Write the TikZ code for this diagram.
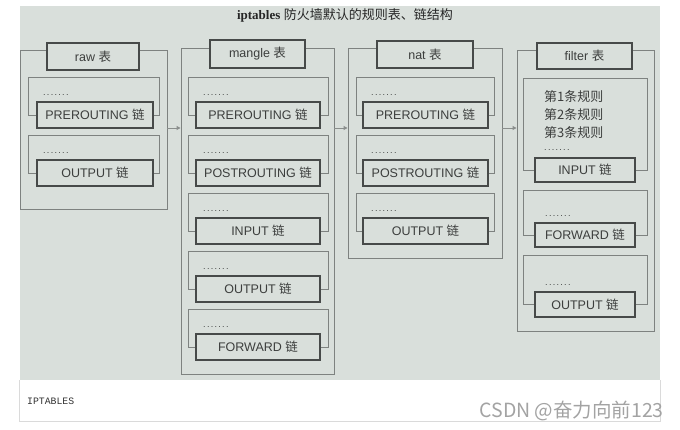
\documentclass[tikz,border=0pt]{standalone}
\usepackage{fontspec}
\setmainfont{Liberation Sans}
\newfontfamily\cjk{Noto Sans CJK SC}
\newfontfamily\serifb{Liberation Serif}
\newfontfamily\monof{Liberation Mono}
\usetikzlibrary{arrows.meta}
\definecolor{photobg}{HTML}{D9DFDB}
\definecolor{framecol}{HTML}{7E8280}
\definecolor{boxcol}{HTML}{474A49}
\definecolor{txtcol}{HTML}{3C3E3D}
\definecolor{arrcol}{HTML}{8A8E8C}
\definecolor{capline}{HTML}{DADADA}
\definecolor{wmcol}{HTML}{A3A3A3}
\newcommand\lbl{\fontsize{12.5}{14}\selectfont}
\newcommand\dotrow{.\kern1.3pt.\kern1.3pt.\kern1.3pt.\kern1.3pt.\kern1.3pt.\kern1.3pt.}
\newcommand\bx[7]{%
  \pgfmathsetmacro\bxcx{(#3+#5)/2}\pgfmathsetmacro\bxcy{(#4+#6)/2}%
  \pgfmathsetmacro\bxw{#5-#3}\pgfmathsetmacro\bxh{#6-#4}%
  \node[#2,minimum width=\bxw pt,minimum height=\bxh pt] (#1) at (\bxcx,\bxcy) {#7};}
\newcommand\grpbox[7]{%
  \pgfmathsetmacro\grT{77+58*(#2-1)}%
  \pgfmathsetmacro\grC{\grT+25}%
  \pgfmathsetmacro\grM{\grC+13}%
  \pgfmathsetmacro\grB{\grC+26}%
  \bx{#1f}{grp}{#3}{\grT}{#4}{\grM}{}%
  \bx{#1}{chainbox}{#5}{\grC}{#6}{\grB}{#7}%
  \node[dotsn] (#1d) at (#3+15,\grC-7) {\dotrow};}
\begin{document}
\begin{tikzpicture}[x=1pt,y=-1pt,
  outer/.style={draw=framecol,line width=0.9pt,inner sep=0pt},
  grp/.style={draw=framecol,line width=0.9pt,inner sep=0pt},
  hdr/.style={draw=boxcol,line width=1.4pt,fill=photobg,font=\lbl,text=txtcol,inner sep=0pt},
  chainbox/.style={draw=boxcol,line width=1.2pt,fill=photobg,font=\lbl,text=txtcol,inner sep=0pt},
  dotsn/.style={font=\fontsize{9}{9}\selectfont,text=txtcol,anchor=west,inner sep=0pt},
  rule/.style={font=\cjk\fontsize{13}{13}\selectfont,text=txtcol,anchor=west,inner sep=0pt},
  arr/.style={draw=arrcol,line width=0.9pt,-{Triangle[length=4pt,width=4pt]}}
]
\useasboundingbox (0,0) rectangle (680,430);
\fill[white] (0,0) rectangle (680,430);
% photo and caption box
\fill[photobg] (20,6) rectangle (660,380);
\draw[capline,line width=0.8pt] (19.5,380) -- (19.5,421.5) -- (660.5,421.5) -- (660.5,380);
\node[font=\fontsize{13}{15}\selectfont,text=black!85,inner sep=0pt] (title) at (345,15)
  {{\serifb\bfseries iptables} {\cjk 防火墙默认的规则表、链结构}};
\node[font=\monof\fontsize{9.8}{11}\selectfont,text=black!80,anchor=west,inner sep=0pt] (cap) at (27,401) {IPTABLES};
\node[font=\cjk\fontsize{19.5}{21}\selectfont,text=wmcol,anchor=east,inner sep=0pt] (wm) at (664,411) {CSDN @奋力向前123};

% outer frames
\bx{raw}{outer}{20}{50}{167}{209}{}
\bx{mangle}{outer}{181}{48}{334}{374}{}
\bx{nat}{outer}{348}{48}{502}{258}{}
\bx{filter}{outer}{517}{50}{654}{331}{}
% headers
\bx{rawh}{hdr}{47}{43}{139}{70}{raw {\cjk 表}}
\bx{mangleh}{hdr}{210}{40}{305}{68}{mangle {\cjk 表}}
\bx{nath}{hdr}{377}{41}{473}{68}{nat {\cjk 表}}
\bx{filterh}{hdr}{537}{43}{632}{69}{filter {\cjk 表}}

% raw chains
\grpbox{raw1}{1}{28}{159}{37}{153}{PREROUTING {\cjk 链}}
\grpbox{raw2}{2}{28}{159}{37}{153}{OUTPUT {\cjk 链}}
% mangle chains
\grpbox{man1}{1}{188}{328}{196}{320}{PREROUTING {\cjk 链}}
\grpbox{man2}{2}{188}{328}{196}{320}{POSTROUTING {\cjk 链}}
\grpbox{man3}{3}{188}{328}{196}{320}{INPUT {\cjk 链}}
\grpbox{man4}{4}{188}{328}{196}{320}{OUTPUT {\cjk 链}}
\grpbox{man5}{5}{188}{328}{196}{320}{FORWARD {\cjk 链}}
% nat chains
\grpbox{nat1}{1}{356}{494}{363}{488}{PREROUTING {\cjk 链}}
\grpbox{nat2}{2}{356}{494}{363}{488}{POSTROUTING {\cjk 链}}
\grpbox{nat3}{3}{356}{494}{363}{488}{OUTPUT {\cjk 链}}
% filter chains
\bx{fil1f}{grp}{523}{78}{647}{170}{}
\bx{fil1}{chainbox}{535}{158}{635}{182}{INPUT {\cjk 链}}
\node[rule] (r1) at (544,97) {第1条规则};
\node[rule] (r2) at (544,115) {第2条规则};
\node[rule] (r3) at (544,132.5) {第3条规则};
\node[dotsn] (fil1d) at (544,150) {\dotrow};
\bx{fil2f}{grp}{523}{190}{647}{235}{}
\bx{fil2}{chainbox}{535}{223}{635}{247}{FORWARD {\cjk 链}}
\node[dotsn] (fil2d) at (545,216) {\dotrow};
\bx{fil3f}{grp}{523}{255}{647}{304.5}{}
\bx{fil3}{chainbox}{535}{292}{635}{317}{OUTPUT {\cjk 链}}
\node[dotsn] (fil3d) at (545,285) {\dotrow};

% arrows between tables
\coordinate (ay) at (0,128);
\draw[arr] (raw.east |- ay) -- (mangle.west |- ay);
\draw[arr] (mangle.east |- ay) -- (nat.west |- ay);
\draw[arr] (nat.east |- ay) -- (filter.west |- ay);
\end{tikzpicture}
\end{document}
